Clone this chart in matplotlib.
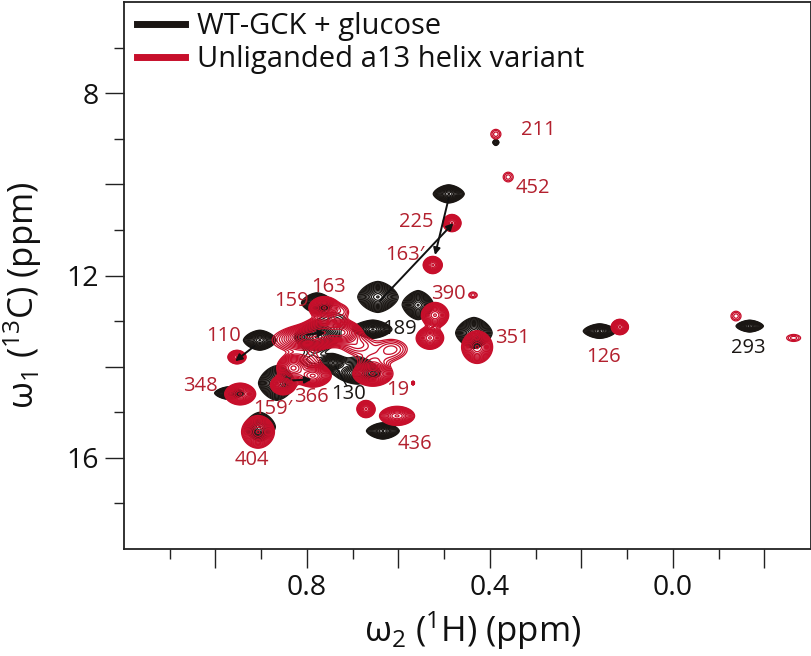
import numpy as np
import matplotlib
matplotlib.use("Agg")
import matplotlib.pyplot as plt
from matplotlib.lines import Line2D

plt.rcParams['font.family'] = ['Open Sans', 'DejaVu Sans']
plt.rcParams['mathtext.fontset'] = 'custom'
plt.rcParams['mathtext.rm'] = 'Open Sans'
plt.rcParams['mathtext.it'] = 'Open Sans'
plt.rcParams['mathtext.default'] = 'regular'

BLACK = '#1a1613'
RED = '#c70f2b'
LABEL_RED = '#b3202e'

# peak tables: 1H ppm, 13C ppm, half width 1H, half width 13C, amplitude
wt_h = [0.49, 0.645, 0.557, 0.435, 0.778, 0.778, 0.656, 0.743, 0.69, 0.634, 0.903, 0.97, 0.866, 0.903, 0.16, -0.168, 0.387,
        0.74, 0.69, 0.79]
wt_c = [10.21, 12.47, 12.65, 13.26, 12.6, 13.35, 13.18, 13.92, 14.14, 15.41, 13.42, 14.58, 14.36, 15.32, 13.22, 13.11, 9.08,
        13.0, 13.95, 13.85]
wt_wh = [0.034, 0.044, 0.034, 0.04, 0.034, 0.05, 0.042, 0.03, 0.05, 0.036, 0.036, 0.032, 0.04, 0.034, 0.036, 0.03, 0.01,
         0.07, 0.07, 0.07]
wt_wc = [0.2, 0.34, 0.32, 0.34, 0.22, 0.32, 0.2, 0.19, 0.24, 0.18, 0.22, 0.14, 0.38, 0.32, 0.16, 0.13, 0.1,
         0.45, 0.4, 0.45]
wt_a = [1, 1, 1, 1, 1, 1, 1, 1, 1, 1, 1, 1, 1, 1, 1, 1, 0.25,
        0.1, 0.1, 0.09]

var_h = [0.387, 0.36, 0.483, 0.525, 0.437, 0.52, 0.531, 0.428, 0.116, -0.138, -0.264, 0.953, 0.946,
         0.907, 0.83, 0.852, 0.787, 0.762, 0.723, 0.765, 0.69, 0.615, 0.656, 0.603, 0.671, 0.568, 0.80, 0.725,
         0.83, 0.80, 0.655]
var_c = [8.9, 9.84, 10.85, 11.77, 12.43, 12.87, 13.37, 13.57, 13.13, 12.89, 13.37, 13.79, 14.6,
         15.43, 14.03, 14.4, 14.2, 12.71, 12.8, 13.24, 13.52, 13.62, 14.16, 15.08, 14.93, 14.36, 13.35, 13.25,
         13.42, 13.9, 13.85]
var_wh = [0.026, 0.026, 0.02, 0.021, 0.022, 0.03, 0.03, 0.034, 0.019, 0.026, 0.036, 0.02, 0.034,
          0.036, 0.036, 0.028, 0.04, 0.034, 0.03, 0.05, 0.06, 0.06, 0.044, 0.04, 0.02, 0.003, 0.05, 0.045,
          0.08, 0.06, 0.06]
var_wc = [0.25, 0.25, 0.19, 0.19, 0.16, 0.28, 0.25, 0.36, 0.17, 0.25, 0.18, 0.15, 0.24,
          0.36, 0.3, 0.22, 0.25, 0.25, 0.3, 0.34, 0.36, 0.38, 0.27, 0.22, 0.19, 0.04, 0.26, 0.28,
          0.4, 0.45, 0.3]
var_a = [0.09, 0.09, 1, 1, 0.09, 1, 1, 1, 1, 0.09, 0.09, 1, 1,
         1, 1, 1, 1, 1, 0.1, 1, 0.14, 0.14, 1, 0.8, 1, 1, 1, 1,
         0.14, 0.1, 0.1]

# residue labels: text, 1H ppm, 13C ppm
lab_text = ['211', '452', '225', "163\u2032", '390', '163', '159', '110', '189', '351', '126', '293',
            '348', "159\u2032", '366', '130', '19', '436', '404']
lab_h = [0.293, 0.305, 0.562, 0.586, 0.49, 0.752, 0.833, 0.983, 0.597, 0.350, 0.151, -0.164,
         1.032, 0.874, 0.79, 0.71, 0.602, 0.564, 0.92]
lab_c = [8.81, 10.08, 10.83, 11.55, 12.41, 12.25, 12.55, 13.33, 13.18, 13.37, 13.79, 13.59,
         14.43, 14.93, 14.67, 14.6, 14.51, 15.7, 16.05]
lab_black = {'189', '293', '130'}

# arrows: start and end as ppm
arrow_h0 = [0.49, 0.640, 0.915, 0.80, 0.83]
arrow_c0 = [10.3, 12.55, 13.55, 13.3, 14.3]
arrow_h1 = [0.52, 0.480, 0.957, 0.76, 0.79]
arrow_c1 = [11.55, 10.85, 13.88, 13.25, 14.28]

H_MIN, H_MAX = -0.302, 1.2
C_MIN, C_MAX = 6.0, 18.0

fig = plt.figure(figsize=(8.12, 6.56), dpi=100)
W, H = 812.0, 656.0
ax = fig.add_axes([124 / W, 1 - 549 / H, (811 - 124) / W, (549 - 2) / H])
ax.set_xlim(H_MAX, H_MIN)
ax.set_ylim(C_MAX, C_MIN)

hh = np.linspace(H_MIN, H_MAX, 1500)
cc = np.linspace(C_MIN, C_MAX, 1200)
HH, CC = np.meshgrid(hh, cc)


def field(h, c, wh, wc, a, p):
    z = np.zeros_like(HH)
    k = 3 ** (1 / p)
    for h0, c0, sx, sy, amp in zip(h, c, wh, wc, a):
        r = (np.abs(HH - h0) * k / sx) ** p + (np.abs(CC - c0) * k / sy) ** p
        z += amp * np.exp(-r)
    return z


levels = np.geomspace(0.05, 3.0, 19)
ax.contour(HH, CC, field(wt_h, wt_c, wt_wh, wt_wc, wt_a, 1.6), levels=levels, colors=BLACK, linewidths=0.9, zorder=2)
ax.contour(HH, CC, field(var_h, var_c, var_wh, var_wc, var_a, 1.9), levels=levels, colors=RED, linewidths=0.9, zorder=3)

for x0, y0, x1, y1 in zip(arrow_h0, arrow_c0, arrow_h1, arrow_c1):
    ax.annotate('', xy=(x1, y1), xytext=(x0, y0), zorder=4,
                arrowprops=dict(arrowstyle='-|>', color='#111111', lw=1.4, mutation_scale=10, shrinkA=0, shrinkB=0))
ax.plot([0.737, 0.713], [14.0, 14.42], color='#111111', lw=1.0, zorder=4)

for t, x, y in zip(lab_text, lab_h, lab_c):
    ax.text(x, y, t, fontsize=14.5, ha='center', va='center', zorder=5,
            color=BLACK if t in lab_black else LABEL_RED)

ax.set_xticks([1.0, 0.8, 0.6, 0.4, 0.2, 0.0, -0.2])
ax.set_xticklabels(['', '0.8', '', '0.4', '', '0.0', ''])
ax.set_xticks([1.1, 0.9, 0.7, 0.5, 0.3, 0.1, -0.1], minor=True)
ax.set_yticks([8, 10, 12, 14, 16])
ax.set_yticklabels(['8', '', '12', '', '16'])
ax.set_yticks([7, 9, 11, 13, 15, 17], minor=True)
ax.tick_params(which='major', length=14, width=1.0, labelsize=20.5, color='#222222', labelcolor='#111111', pad=4)
ax.tick_params(which='minor', length=7.5, width=1.0, color='#222222')
for s in ax.spines.values():
    s.set_linewidth(1.3)
    s.set_color('#222222')

ax.set_xlabel('$\\omega_2$ ($^1$H) (ppm)', fontsize=25, color='#111111', va='center')
ax.set_ylabel('$\\omega_1$ ($^{13}$C) (ppm)', fontsize=25, color='#111111', va='center')
ax.xaxis.set_label_coords(0.508, -0.15)
ax.yaxis.set_label_coords(-0.148, 0.464)

handles = [Line2D([], [], color=BLACK, lw=5), Line2D([], [], color=RED, lw=5)]
ax.legend(handles, ['WT-GCK + glucose', 'Unliganded a13 helix variant'], loc='upper left',
          frameon=False, fontsize=21, handlelength=1.65, handletextpad=0.4, labelspacing=0.13,
          borderaxespad=0, borderpad=0.25, bbox_to_anchor=(0.008, 0.995), labelcolor='#111111')

fig.savefig('out.png', dpi=100)
